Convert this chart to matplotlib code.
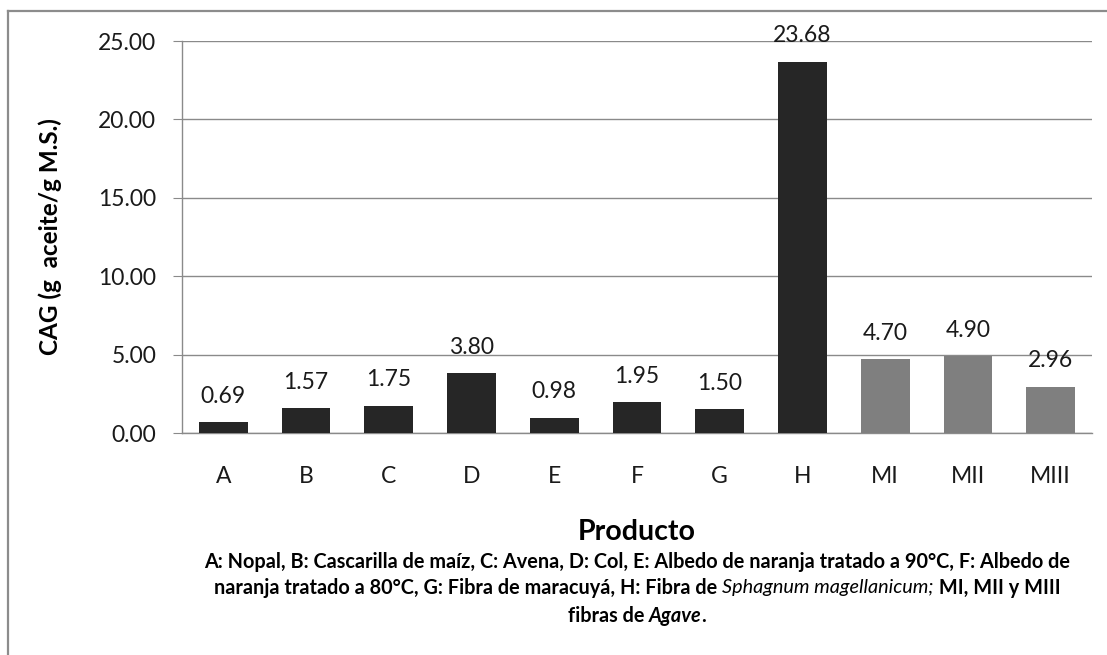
import matplotlib
matplotlib.use("Agg")
import matplotlib.pyplot as plt
from matplotlib.lines import Line2D
import numpy as np

# data
productos = ["A", "B", "C", "D", "E", "F", "G", "H", "MI", "MII", "MIII"]
cag = [0.69, 1.57, 1.75, 3.80, 0.98, 1.95, 1.50, 23.68, 4.70, 4.90, 2.96]
colores = ["#262626"] * 8 + ["#7f7f7f"] * 3
yticks = [0, 5, 10, 15, 20, 25]

# caption split into (text, weight, style) pieces per line
caption = [
    [("A: Nopal, B: Cascarilla de maíz, C: Avena, D: Col, E: Albedo de naranja tratado a 90°C, F: Albedo de", "bold", "normal")],
    [("naranja tratado a 80°C, G: Fibra de maracuyá, H: Fibra de ", "bold", "normal"),
     ("Sphagnum magellanicum;", "normal", "italic"),
     (" MI, MII y MIII", "bold", "normal")],
    [("fibras de ", "bold", "normal"), ("Agave", "bold", "italic"), (".", "bold", "normal")],
]

W, H = 1107, 655
plt.rcParams["font.family"] = ["Lato", "DejaVu Sans"]
fig = plt.figure(figsize=(W / 100, H / 100), dpi=100)
ax = fig.add_axes([182 / W, 1 - 433 / H, 910 / W, 392 / H])

x = np.arange(len(productos))
bars = ax.bar(x, cag, width=0.59, color=colores, zorder=3)
ax.bar_label(bars, labels=["%.2f" % v for v in cag], padding=11, fontsize=16.5, color="#1a1a1a")

ax.set_xlim(-0.5, len(productos) - 0.5)
ax.set_ylim(0, 25)
ax.set_yticks(yticks)
ax.set_yticklabels(["%.2f" % t for t in yticks])
ax.set_xticks(x)
ax.set_xticklabels(productos)
ax.yaxis.grid(True, color="#8a8a8a", linewidth=1.0, zorder=0)
ax.tick_params(axis="y", length=6.5, color="#8a8a8a", pad=12, labelsize=16.5, labelcolor="#1a1a1a")
ax.tick_params(axis="x", length=0, pad=24, labelsize=16.5, labelcolor="#1a1a1a")
for s in ["top", "right"]:
    ax.spines[s].set_visible(False)
for s in ["left", "bottom"]:
    ax.spines[s].set_color("#8a8a8a")
    ax.spines[s].set_linewidth(1.0)

ax.set_ylabel("CAG (g  aceite/g M.S.)", fontsize=17.5, fontweight="bold")
ax.yaxis.set_label_coords((62 - 182) / 910, 0.5)
ax.set_xlabel("Producto", fontsize=20.5, fontweight="bold")
ax.xaxis.set_label_coords(0.5, (433 - 532) / 392)
ax.xaxis.label.set_va("center")

# caption with mixed bold / italic pieces, centered around x=637
renderer = fig.canvas.get_renderer()
line_y = [562, 588, 616]
for pieces, yy in zip(caption, line_y):
    texts = []
    for s, w, st in pieces:
        t = fig.text(0, 1 - yy / H, s, fontsize=14.3, fontweight=w, fontstyle=st,
                     va="center", ha="left", color="black")
        texts.append(t)
    widths = [t.get_window_extent(renderer).width for t in texts]
    x0 = 637 - sum(widths) / 2
    for t, wd in zip(texts, widths):
        t.set_x(x0 / W)
        x0 += wd

# outer frame of the chart area (top and left visible)
fig.add_artist(Line2D([8 / W, 1], [1 - 11 / H, 1 - 11 / H], color="#8c8c8c", linewidth=1.6))
fig.add_artist(Line2D([8 / W, 8 / W], [0, 1 - 11 / H], color="#8c8c8c", linewidth=1.6))

fig.savefig("out.png", dpi=100)
